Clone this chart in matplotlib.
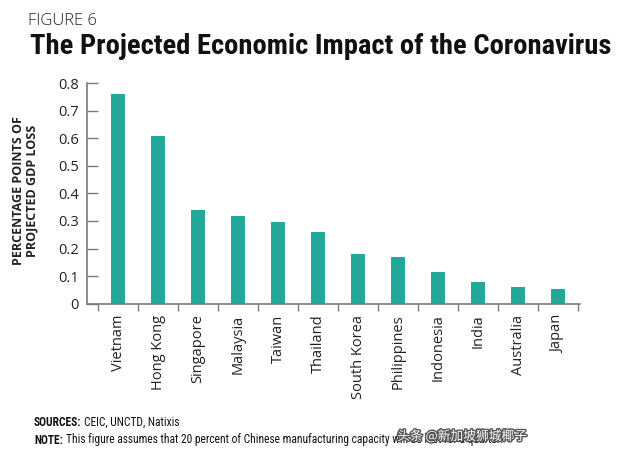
import matplotlib.pyplot as plt
import numpy as np
from matplotlib import patheffects

countries = ["Vietnam", "Hong Kong", "Singapore", "Malaysia", "Taiwan", "Thailand",
             "South Korea", "Philippines", "Indonesia", "India", "Australia", "Japan"]
gdp_loss = [0.76, 0.61, 0.34, 0.32, 0.295, 0.26, 0.18, 0.168, 0.116, 0.079, 0.06, 0.052]
y_ticks = [0, 0.1, 0.2, 0.3, 0.4, 0.5, 0.6, 0.7, 0.8]
y_tick_labels = ["0", "0.1", "0.2", "0.3", "0.4", "0.5", "0.6", "0.7", "0.8"]

BAR_COLOR = "#22a99b"
AXIS_COLOR = "#7a7a7a"
NARROW = ["Roboto Condensed", "DejaVu Sans"]

plt.rcParams["font.family"] = ["Open Sans", "DejaVu Sans"]

fig = plt.figure(figsize=(6.4, 4.57), dpi=100)
ax = fig.add_axes([87 / 640, 1 - 303.5 / 457, 493 / 640, 220 / 457])

x = np.arange(len(countries))
ax.bar(x, gdp_loss, width=0.35, color=BAR_COLOR, zorder=2)

ax.set_xlim(-0.775, 11.55)
ax.set_ylim(0, 0.8)

ax.set_yticks(y_ticks)
ax.set_yticklabels(y_tick_labels, fontsize=10.5, color="#222222")
ax.tick_params(axis="y", direction="in", length=8, width=1, color=AXIS_COLOR, pad=6)

ax.set_xticks(x)
ax.set_xticklabels(countries, rotation=90, fontsize=10.5, color="#222222")
ax.tick_params(axis="x", which="major", length=0, pad=8)
ax.set_xticks(np.arange(-0.5, 12, 1), minor=True)
ax.tick_params(axis="x", which="minor", direction="out", length=5, width=1, color=AXIS_COLOR)

for side in ["top", "right"]:
    ax.spines[side].set_visible(False)
for side in ["left", "bottom"]:
    ax.spines[side].set_color(AXIS_COLOR)
    ax.spines[side].set_linewidth(1.2)

fig.text(25 / 640, 1 - 191 / 457, "PERCENTAGE POINTS OF\nPROJECTED GDP LOSS",
         rotation=90, ha="center", va="center", fontsize=9, fontweight="bold",
         linespacing=1.0, color="#222222")

# titles
fig.text(28 / 640, 1 - 21 / 457, "FIGURE 6", fontsize=12, fontweight=300,
         color="#222222", va="center")
fig.text(30 / 640, 1 - 46 / 457, "The Projected Economic Impact of the Coronavirus",
         fontsize=20.5, fontweight="bold", family=NARROW, color="#111111", va="center")

# footer with bold lead-ins
renderer = fig.canvas.get_renderer()


def footer_line(y, lead, rest):
    t = fig.text(34 / 640, y, lead, fontsize=8.3, fontweight="bold", family=NARROW,
                 va="center", color="#111111")
    bb = t.get_window_extent(renderer)
    fig.text((bb.x1 + 3) / 640, y, rest, fontsize=8.3, family=NARROW,
             va="center", color="#111111")


footer_line(1 - 422 / 457, "SOURCES:", "CEIC, UNCTD, Natixis")
footer_line(1 - 440 / 457, "NOTE:", "This figure assumes that 20 percent of Chinese manufacturing capacity will be lost for a quarter.")

wm = fig.text(462 / 640, 1 - 436 / 457, "头条 @新加坡狮城椰子", fontsize=9.2,
              family=["Noto Sans CJK SC", "DejaVu Sans"], color="white",
              ha="center", va="center")
wm.set_path_effects([patheffects.withStroke(linewidth=2, foreground="#555555")])

fig.savefig("out.png", dpi=100, facecolor="white")
